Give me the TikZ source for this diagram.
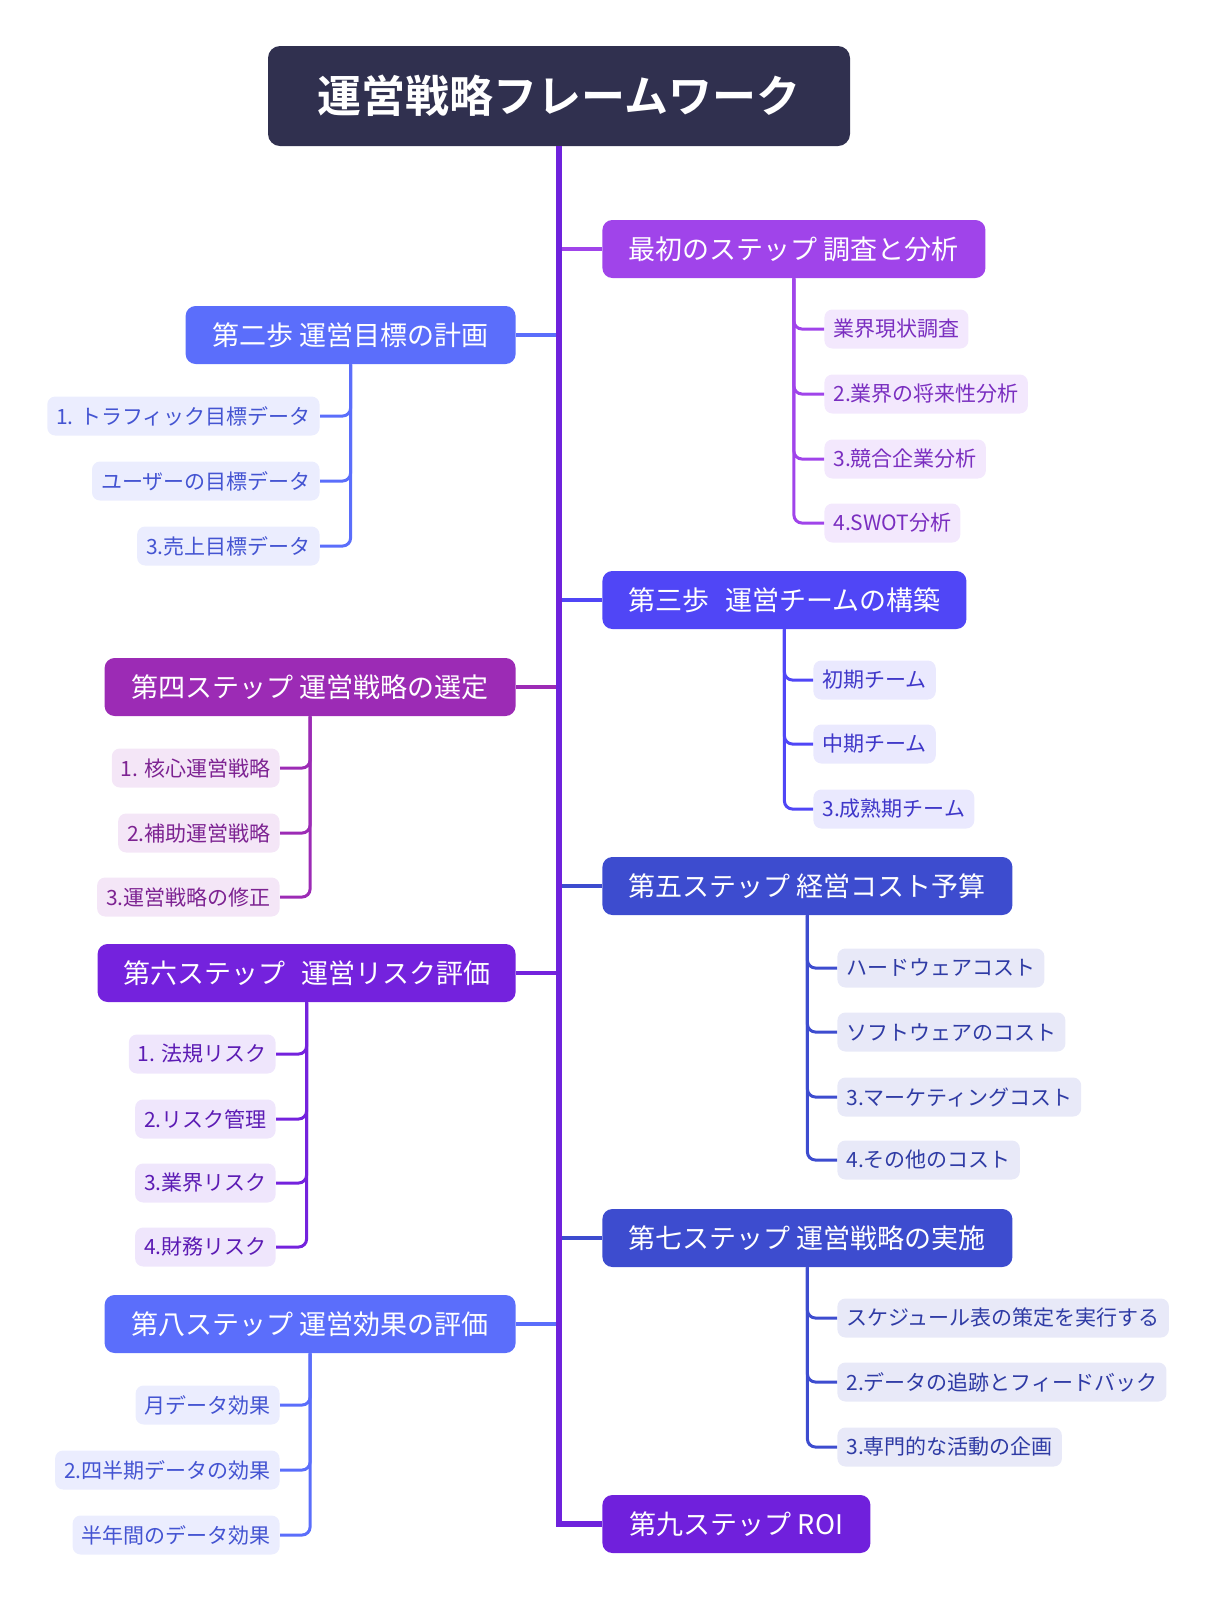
\documentclass[tikz,border=0pt]{standalone}
\usepackage{fontspec}
\setmainfont{Noto Sans CJK JP}[BoldFont={Noto Sans CJK JP Bold}]
\usepackage{tikz}
% colours
\definecolor{rootbg}{HTML}{30304F}
\definecolor{trunkc}{HTML}{6E22DC}
\definecolor{cA}{HTML}{A044EA}\definecolor{cAl}{HTML}{F3E8FD}\definecolor{cAd}{HTML}{7A2EC0}
\definecolor{cB}{HTML}{5046F6}\definecolor{cBl}{HTML}{EAE9FE}\definecolor{cBd}{HTML}{3F37C9}
\definecolor{cC}{HTML}{3D4CCF}\definecolor{cCl}{HTML}{E8E9F8}\definecolor{cCd}{HTML}{2F3BA5}
\definecolor{cD}{HTML}{7020DC}
\definecolor{cE}{HTML}{5B6EFB}\definecolor{cEl}{HTML}{EBEDFE}\definecolor{cEd}{HTML}{4454D2}
\definecolor{cF}{HTML}{9C2BB5}\definecolor{cFl}{HTML}{F4E6F7}\definecolor{cFd}{HTML}{7D2392}
\definecolor{cG}{HTML}{7422DD}\definecolor{cGl}{HTML}{EFE6FC}\definecolor{cGd}{HTML}{5C1BB4}

\begin{document}
\begin{tikzpicture}[x=0.5pt,y=-0.5pt,
  main/.style={rounded corners=5pt,text=white,font=\fontsize{13.5}{16}\selectfont,minimum height=29pt,inner xsep=0pt},
  sub/.style={rounded corners=4pt,font=\fontsize{10.5}{12}\selectfont,minimum height=19.5pt,inner xsep=4.5pt},
  branch/.style={line width=2pt},
  twig/.style={line width=1.5pt,rounded corners=4pt}]
  \useasboundingbox (0,0) rectangle (1219,1614);
  % Parameters
  \def\trunkX{559}   % main vertical line
  \def\rightX{602}   % left edge of right boxes
  \def\leftX{516}    % right edge of left boxes
  % Root
  \node[fill=rootbg,text=white,rounded corners=6pt,minimum width=291pt,minimum height=50pt,
    font=\bfseries\fontsize{22}{26}\selectfont] (root) at (\trunkX,96) {運営戦略フレームワーク};
  % Right boxes
  \node[main,fill=cA,anchor=west,minimum width=191.5pt] (r1) at (\rightX,249) {最初のステップ 調査と分析};
  \node[main,fill=cB,anchor=west,minimum width=182pt] (r2) at (\rightX,600) {第三歩\hspace{0.6em}運営チームの構築};
  \node[main,fill=cC,anchor=west,minimum width=205pt] (r3) at (\rightX,886) {第五ステップ 経営コスト予算};
  \node[main,fill=cC,anchor=west,minimum width=205pt] (r4) at (\rightX,1238) {第七ステップ 運営戦略の実施};
  \node[main,fill=cD,anchor=west,minimum width=134pt] (r5) at (\rightX,1524) {第九ステップ ROI};
  % Left boxes
  \node[main,fill=cE,anchor=east,minimum width=165pt] (l1) at (\leftX,335) {第二歩 運営目標の計画};
  \node[main,fill=cF,anchor=east,minimum width=205.5pt] (l2) at (\leftX,687) {第四ステップ 運営戦略の選定};
  \node[main,fill=cG,anchor=east,minimum width=209pt] (l3) at (\leftX,973) {第六ステップ\hspace{0.6em}運営リスク評価};
  \node[main,fill=cE,anchor=east,minimum width=205.5pt] (l4) at (\leftX,1324) {第八ステップ 運営効果の評価};
  % Branches to the trunk
  \foreach \n/\c in {r1/cA,r2/cB,r3/cC,r4/cC}
  {\draw[branch,\c] (\n.west -| root.south) -- (\n.west);}
  \foreach \n/\c in {l1/cE,l2/cF,l3/cG,l4/cE}
  {\draw[branch,\c] (\n.east) -- (\n.east -| root.south);}
  % Trunk
  \coordinate (turn) at (root.south |- r5.west);
  \draw[trunkc,line width=2.6pt] (root.south) -- (turn) -- (r5.west);
  % Children of the right boxes
  \foreach \y/\txt [count=\i] in {329/業界現状調査,394/2.業界の将来性分析,459/3.競合企業分析,523/4.SWOT分析}
  {\node[sub,fill=cAl,text=cAd,anchor=west] (r1\i) at (824,\y) {\txt};
   \draw[twig,cA] (r1.south) |- (r1\i.west);}
  \foreach \y/\txt [count=\i] in {680/初期チーム,744/中期チーム,809/3.成熟期チーム}
  {\node[sub,fill=cBl,text=cBd,anchor=west] (r2\i) at (813,\y) {\txt};
   \draw[twig,cB] (r2.south) |- (r2\i.west);}
  \foreach \y/\txt [count=\i] in {968/ハードウェアコスト,1032/ソフトウェアのコスト,1097/3.マーケティングコスト,1160/4.その他のコスト}
  {\node[sub,fill=cCl,text=cCd,anchor=west] (r3\i) at (837,\y) {\txt};
   \draw[twig,cC] (r3.south) |- (r3\i.west);}
  \foreach \y/\txt [count=\i] in {1318/スケジュール表の策定を実行する,1382/2.データの追跡とフィードバック,1447/3.専門的な活動の企画}
  {\node[sub,fill=cCl,text=cCd,anchor=west] (r4\i) at (837,\y) {\txt};
   \draw[twig,cC] (r4.south) |- (r4\i.west);}
  % Children of the left boxes
  \foreach \y/\txt [count=\i] in {416/1. トラフィック目標データ,481/ユーザーの目標データ,546/3.売上目標データ}
  {\node[sub,fill=cEl,text=cEd,anchor=east] (l1\i) at (320,\y) {\txt};
   \draw[twig,cE] (l1.south) |- (l1\i.east);}
  \foreach \y/\txt [count=\i] in {768/1. 核心運営戦略,833/2.補助運営戦略,897/3.運営戦略の修正}
  {\node[sub,fill=cFl,text=cFd,anchor=east] (l2\i) at (280,\y) {\txt};
   \draw[twig,cF] (l2.south) |- (l2\i.east);}
  \foreach \y/\txt [count=\i] in {1054/1. 法規リスク,1119/2.リスク管理,1183/3.業界リスク,1247/4.財務リスク}
  {\node[sub,fill=cGl,text=cGd,anchor=east] (l3\i) at (276,\y) {\txt};
   \draw[twig,cG] (l3.south) |- (l3\i.east);}
  \foreach \y/\txt [count=\i] in {1405/月データ効果,1470/2.四半期データの効果,1535/半年間のデータ効果}
  {\node[sub,fill=cEl,text=cEd,anchor=east] (l4\i) at (280,\y) {\txt};
   \draw[twig,cE] (l4.south) |- (l4\i.east);}
\end{tikzpicture}
\end{document}
